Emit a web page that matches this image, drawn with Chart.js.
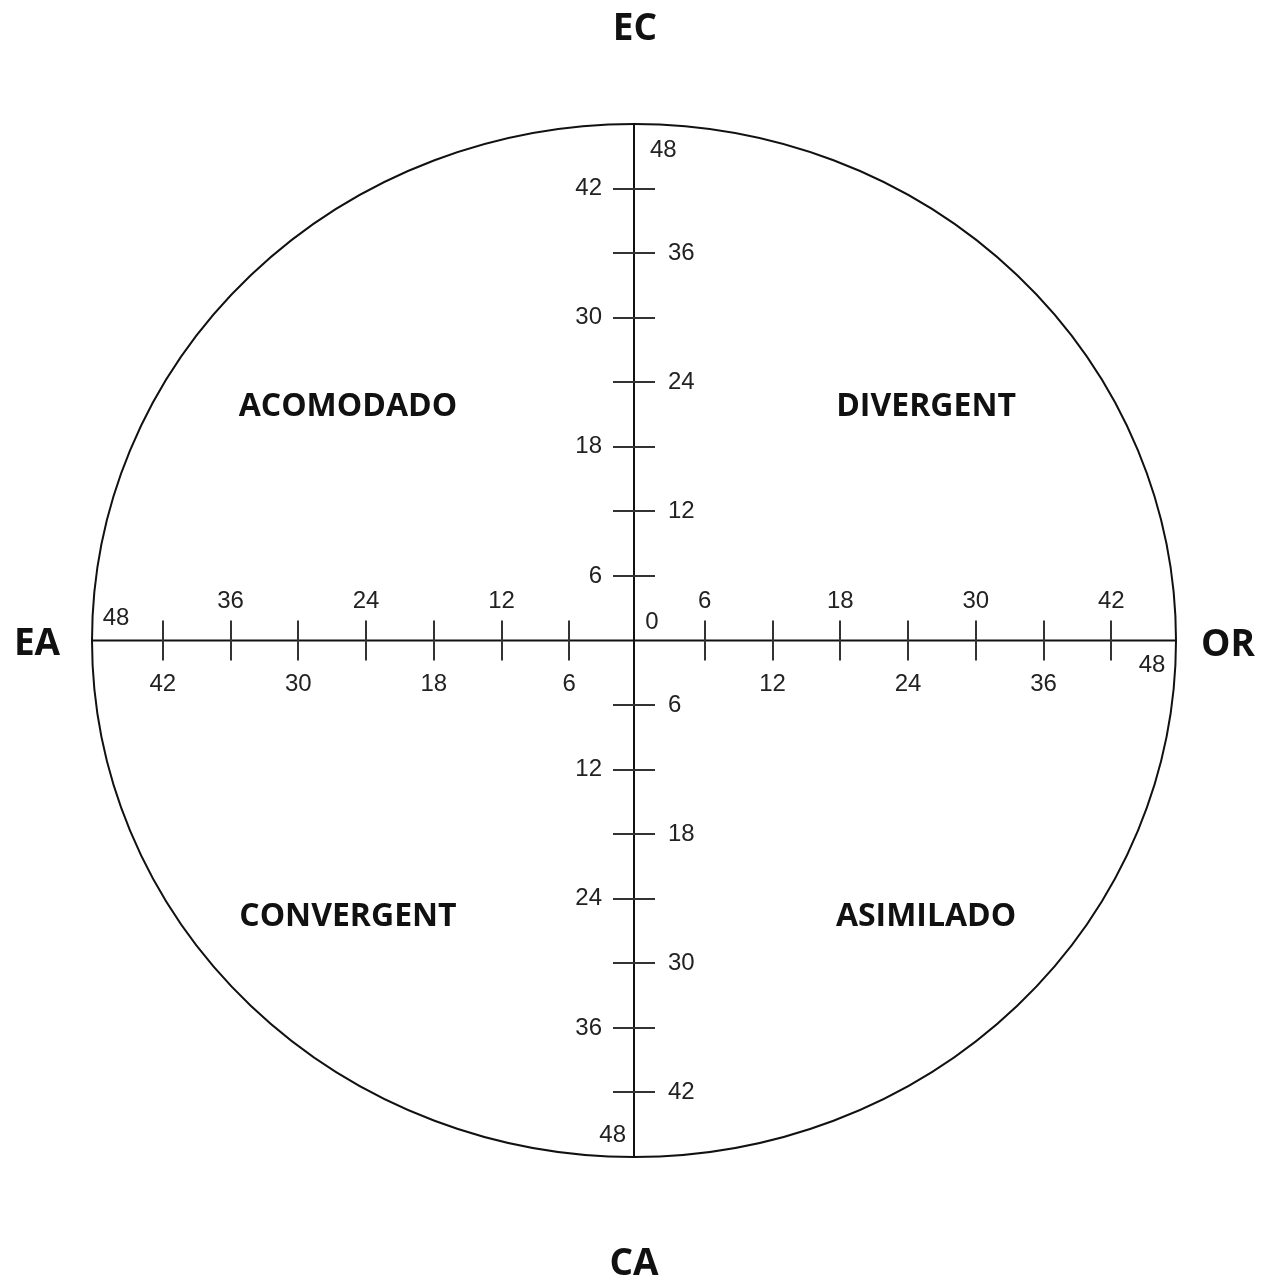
<!DOCTYPE html>
<html><head><meta charset="utf-8">
<style>html,body{margin:0;padding:0;background:#fff}#wrap{width:1265px;height:1278px;position:relative}</style>
<script src="https://cdn.jsdelivr.net/npm/chart.js@4/dist/chart.umd.min.js"></script>
</head><body><div id="wrap"><canvas id="c" width="1265" height="1278"></canvas></div>
<script>
// ---- data ----
const tickValues = [6, 12, 18, 24, 30, 36, 42, 48];
const axisMax = 48;
const axisNames = ['EC', 'OR', 'CA', 'EA'];            // top, right, bottom, left
const quadrantNames = ['ACOMODADO', 'DIVERGENT', 'CONVERGENT', 'ASIMILADO']; // TL, TR, BL, BR
const zeroLabel = '0';

const kolbPlugin = {
  id: 'kolb',
  afterDraw(chart, args, o) {
    const {ctx, scales: {x, y}} = chart;
    const cx = x.getPixelForValue(0), cy = y.getPixelForValue(0);
    const xl = x.getPixelForValue(-axisMax), xr = x.getPixelForValue(axisMax);
    const yt = y.getPixelForValue(axisMax), yb = y.getPixelForValue(-axisMax);
    ctx.save();
    // circle
    ctx.strokeStyle = '#111'; ctx.lineWidth = 2;
    ctx.beginPath(); ctx.ellipse(cx, cy, xr - cx, cy - yt, 0, 0, Math.PI * 2); ctx.stroke();
    // axes
    ctx.beginPath();
    ctx.moveTo(xl, cy); ctx.lineTo(xr, cy);
    ctx.moveTo(cx, yt); ctx.lineTo(cx, yb);
    ctx.stroke();
    // tick marks
    ctx.strokeStyle = '#333'; ctx.lineWidth = 2;
    ctx.beginPath();
    tickValues.forEach(v => {
      if (v >= axisMax) return;
      [-1, 1].forEach(s => {
        const px = Math.round(x.getPixelForValue(s * v)) + o.tickShift;
        ctx.moveTo(px, cy - o.tickH); ctx.lineTo(px, cy + o.tickH);
        const py = Math.round(y.getPixelForValue(s * v));
        ctx.moveTo(cx - o.tickV, py); ctx.lineTo(cx + o.tickV, py);
      });
    });
    ctx.stroke();
    // tick labels
    ctx.fillStyle = '#222';
    ctx.font = o.tickFont;
    ctx.textBaseline = 'middle';
    tickValues.forEach(v => {
      const k = v / 6;
      [-1, 1].forEach(s => {
        // horizontal axis
        const above = s < 0 ? k % 2 === 0 : k % 2 === 1;
        let px = x.getPixelForValue(s * v) + o.tickShift;
        let py = above ? cy - 39 : cy + 44;
        if (v === axisMax) { px -= s * 24 + o.tickShift; py = above ? cy - 22 : cy + 25; }
        ctx.textAlign = 'center';
        ctx.fillText(String(v), px, py);
        // vertical axis
        const right = s > 0 ? k % 2 === 0 : k % 2 === 1;
        let qy = y.getPixelForValue(s * v);
        let qx = right ? cx + 34 : cx - 32;
        if (v === axisMax) {
          qy += s * 26 * (s > 0 ? 1 : 0.85);
          qx = right ? cx + 16 : cx - 8;
        }
        ctx.textAlign = right ? 'left' : 'right';
        ctx.fillText(String(v), qx, qy);
      });
    });
    ctx.textAlign = 'center';
    ctx.fillText(zeroLabel, cx + 18, cy - 18);
    // quadrant labels
    ctx.fillStyle = '#111';
    ctx.font = o.quadFont;
    const qx = o.quadX, qyUp = o.quadYUp, qyDown = o.quadYDown;
    const qpos = [[-qx, qyUp], [qx, qyUp], [-qx, -qyDown], [qx, -qyDown]];
    quadrantNames.forEach((t, i) => {
      ctx.fillText(t, x.getPixelForValue(qpos[i][0]) + 3, y.getPixelForValue(qpos[i][1]) + 4);
    });
    // axis names
    ctx.font = o.axisFont;
    ctx.fillText(axisNames[0], cx + 1, yt - 95);
    ctx.fillText(axisNames[1], xr + 52, cy + 5);
    ctx.fillText(axisNames[2], cx, yb + 107);
    ctx.fillText(axisNames[3], xl - 55, cy + 4);
    ctx.restore();
  }
};

new Chart(document.getElementById('c'), {
  type: 'scatter',
  data: {datasets: [{data: [], pointRadius: 0}]},
  options: {
    responsive: false,
    animation: false,
    layout: {padding: {left: 92, right: 89, top: 124, bottom: 121}},
    plugins: {
      legend: {display: false},
      tooltip: {enabled: false},
      kolb: {
        tickH: 20, tickV: 21, tickShift: 3,
        tickFont: '24px "Liberation Sans", Arial, sans-serif',
        quadFont: 'bold 32px "Open Sans", sans-serif',
        axisFont: 'bold 37px "Open Sans", sans-serif',
        quadX: 25.6, quadYUp: 22.1, quadYDown: 25.3
      }
    },
    scales: {
      x: {type: 'linear', min: -axisMax, max: axisMax, display: false},
      y: {type: 'linear', min: -axisMax, max: axisMax, display: false}
    }
  },
  plugins: [kolbPlugin]
});
</script>
</body></html>
